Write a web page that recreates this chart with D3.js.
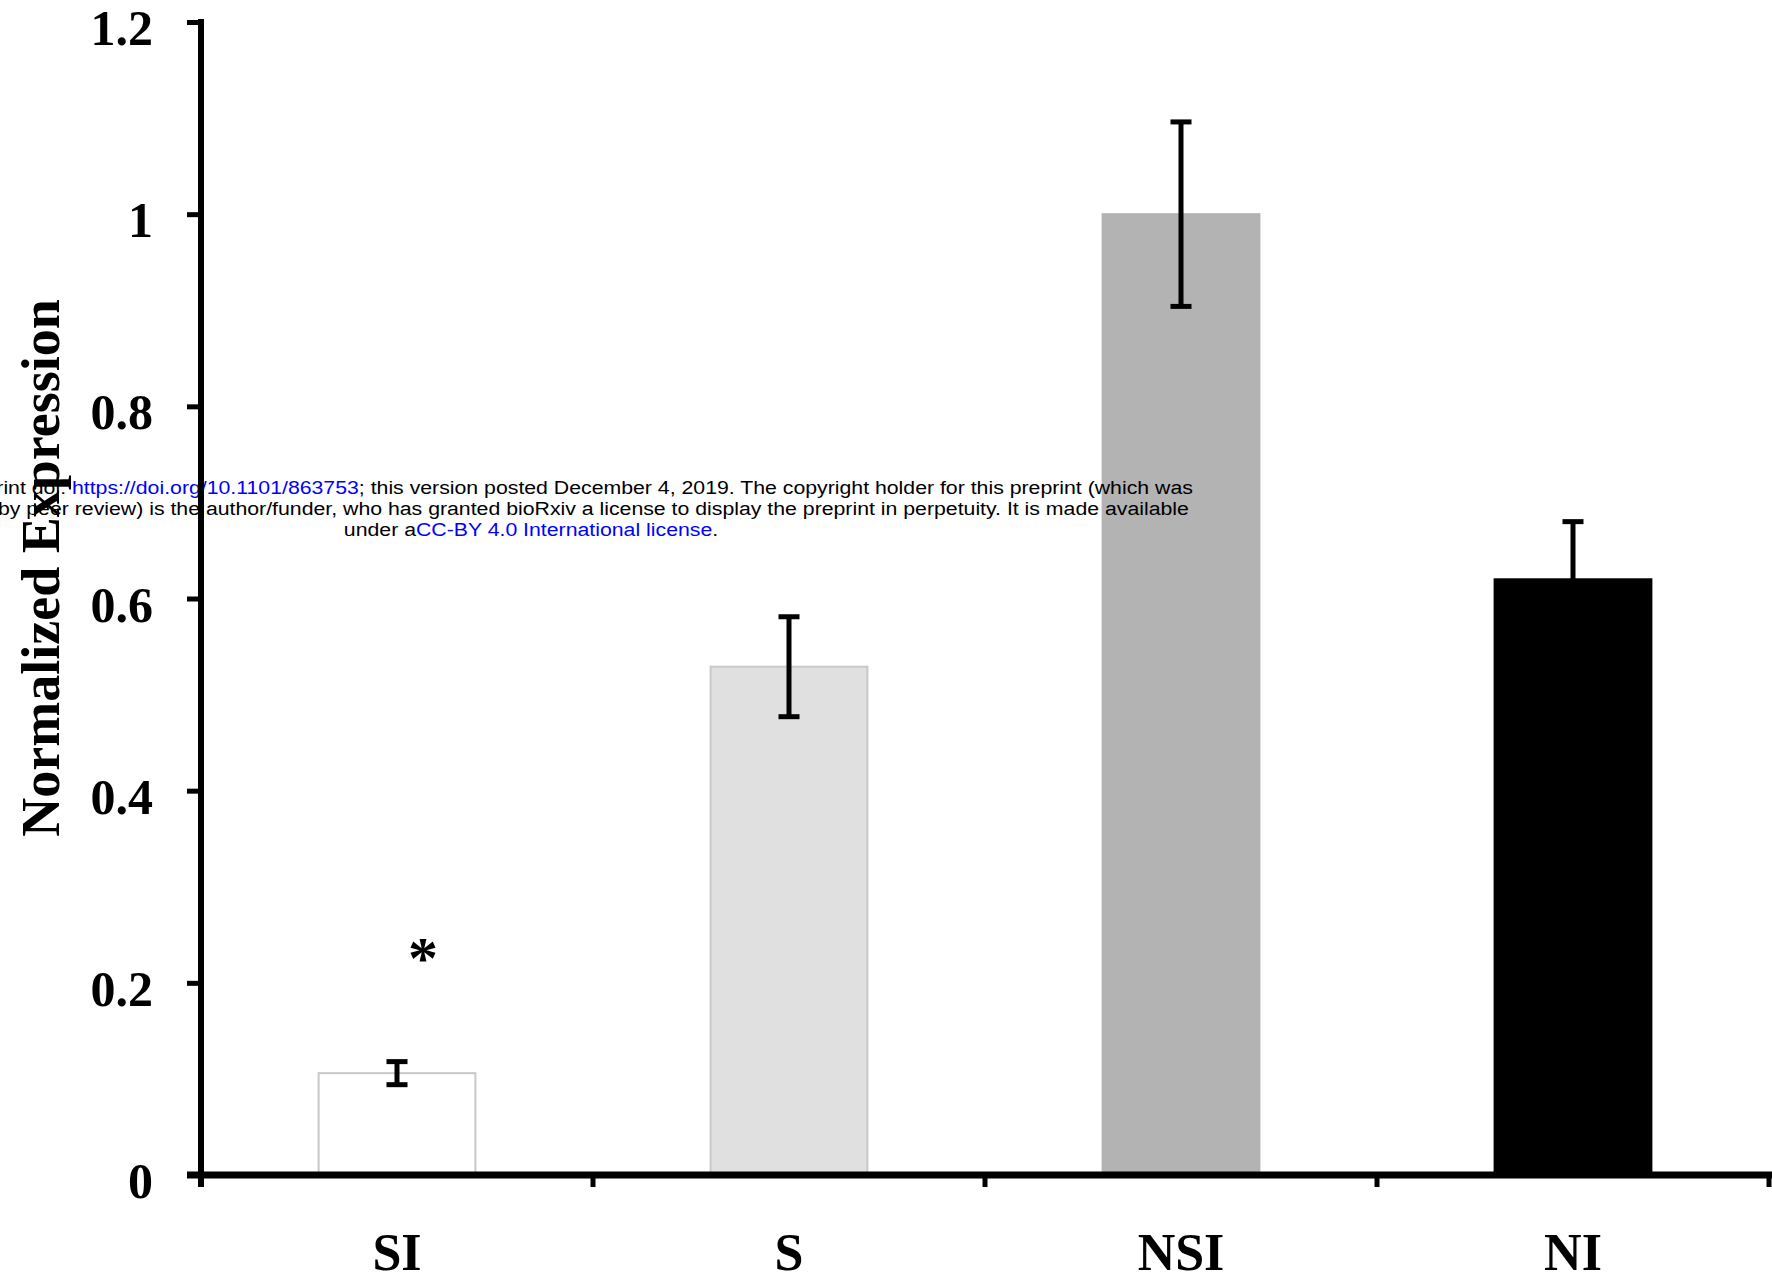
<!DOCTYPE html>
<html>
<head>
<meta charset="utf-8">
<script src="https://cdn.jsdelivr.net/npm/d3@7"></script>
<style>
  body { margin: 0; background: #fff; }
  svg { display: block; }
</style>
</head>
<body>
<div id="chart"></div>
<script>
// data
const groups = ["SI", "S", "NSI", "NI"];
const means = [0.106, 0.529, 1.0, 0.62];
const errors = [0.012, 0.052, 0.096, 0.06];
const fills = ["#ffffff", "#e0e0e0", "#b3b3b3", "#000000"];
const strokes = ["#c8c8c8", "#c8c8c8", "#b3b3b3", "#000000"];
const marks = ["*", "", "", ""];
const markValue = 0.232;
const yTicks = [0, 0.2, 0.4, 0.6, 0.8, 1, 1.2];
const yTickLabels = ["0", "0.2", "0.4", "0.6", "0.8", "1", "1.2"];

const W = 1772, H = 1288;
const svg = d3.select("#chart").append("svg")
    .attr("width", W)
    .attr("height", H);

const x = d3.scaleBand().domain(groups).range([201, 1769]).padding(0);
const y = d3.scaleLinear().domain([0, 1.2]).range([1175, 22]);
const barW = x.bandwidth() * 0.4;
const serif = "'Liberation Serif', 'Times New Roman', serif";

// bars
svg.selectAll("rect.bar")
    .data(groups)
    .join("rect")
    .attr("class", "bar")
    .attr("x", d => x(d) + x.bandwidth() / 2 - barW / 2)
    .attr("y", (d, i) => y(means[i]))
    .attr("width", barW)
    .attr("height", (d, i) => y(0) - y(means[i]))
    .attr("fill", (d, i) => fills[i])
    .attr("stroke", (d, i) => strokes[i])
    .attr("stroke-width", 2);

// error bars
const capW = 21;
const eb = svg.selectAll("g.err")
    .data(groups)
    .join("g")
    .attr("class", "err")
    .attr("stroke", "#000")
    .attr("stroke-width", 5);
eb.append("line")
    .attr("x1", d => x(d) + x.bandwidth() / 2)
    .attr("x2", d => x(d) + x.bandwidth() / 2)
    .attr("y1", (d, i) => y(means[i] + errors[i]))
    .attr("y2", (d, i) => y(means[i] - errors[i]));
eb.append("line")
    .attr("x1", d => x(d) + x.bandwidth() / 2 - capW / 2)
    .attr("x2", d => x(d) + x.bandwidth() / 2 + capW / 2)
    .attr("y1", (d, i) => y(means[i] + errors[i]))
    .attr("y2", (d, i) => y(means[i] + errors[i]));
eb.append("line")
    .attr("x1", d => x(d) + x.bandwidth() / 2 - capW / 2)
    .attr("x2", d => x(d) + x.bandwidth() / 2 + capW / 2)
    .attr("y1", (d, i) => y(means[i] - errors[i]))
    .attr("y2", (d, i) => y(means[i] - errors[i]));

// significance mark
svg.selectAll("text.mark")
    .data(groups)
    .join("text")
    .attr("class", "mark")
    .attr("x", d => x(d) + x.bandwidth() / 2 + 26)
    .attr("y", y(markValue) + 26)
    .attr("text-anchor", "middle")
    .attr("font-family", serif)
    .attr("font-weight", "bold")
    .attr("font-size", 60)
    .text((d, i) => marks[i]);

// bioRxiv watermark
const wm = svg.append("g")
    .attr("transform", "translate(531,0) scale(1.12,1)")
    .attr("font-family", "'Liberation Sans', Arial, sans-serif")
    .attr("font-size", 19)
    .attr("text-anchor", "middle");
const l1 = wm.append("text").attr("x", 4).attr("y", 494);
l1.append("tspan").text("bioRxiv preprint doi: ");
l1.append("tspan").attr("fill", "#0000ff").text("https://doi.org/10.1101/863753");
l1.append("tspan").text("; this version posted December 4, 2019. The copyright holder for this preprint (which was");
wm.append("text").attr("x", 4).attr("y", 515)
    .text("not certified by peer review) is the author/funder, who has granted bioRxiv a license to display the preprint in perpetuity. It is made available");
const l3 = wm.append("text").attr("x", 0).attr("y", 536);
l3.append("tspan").text("under a");
l3.append("tspan").attr("fill", "#0000ff").text("CC-BY 4.0 International license");
l3.append("tspan").text(".");

// y axis
const yAxis = svg.append("g")
    .attr("transform", "translate(201,0)")
    .call(d3.axisLeft(y)
        .tickValues(yTicks)
        .tickFormat((d, i) => yTickLabels[i])
        .tickSize(14)
        .tickSizeOuter(0)
        .tickPadding(34));
yAxis.select(".domain").remove();
yAxis.selectAll(".tick line").attr("stroke", "#000").attr("stroke-width", 5);
yAxis.selectAll(".tick text")
    .attr("font-family", serif)
    .attr("font-weight", "bold")
    .attr("font-size", 50)
    .attr("fill", "#000")
    .attr("dy", "0.45em");
svg.append("line")
    .attr("x1", 201).attr("x2", 201)
    .attr("y1", 19).attr("y2", 1187)
    .attr("stroke", "#000").attr("stroke-width", 6);

// x axis
const xAxis = svg.append("g")
    .attr("transform", "translate(0,1175)")
    .call(d3.axisBottom(x)
        .tickValues([])
        .tickSizeOuter(0));
xAxis.select(".domain").remove();
svg.selectAll("line.xtick")
    .data(groups.slice(1).concat(["end"]))
    .join("line")
    .attr("class", "xtick")
    .attr("x1", (d, i) => i < groups.length - 1 ? x(d) : x.range()[1])
    .attr("x2", (d, i) => i < groups.length - 1 ? x(d) : x.range()[1])
    .attr("y1", 1175).attr("y2", 1187)
    .attr("stroke", "#000").attr("stroke-width", 5);
svg.append("line")
    .attr("x1", 187).attr("x2", W)
    .attr("y1", 1175).attr("y2", 1175)
    .attr("stroke", "#000").attr("stroke-width", 7);

svg.selectAll("text.xlab")
    .data(groups)
    .join("text")
    .attr("class", "xlab")
    .attr("x", d => x(d) + x.bandwidth() / 2)
    .attr("y", 1270)
    .attr("text-anchor", "middle")
    .attr("font-family", serif)
    .attr("font-weight", "bold")
    .attr("font-size", 52)
    .text(d => d);

// y axis title
svg.append("text")
    .attr("transform", "translate(59,568) rotate(-90)")
    .attr("text-anchor", "middle")
    .attr("font-family", serif)
    .attr("font-weight", "bold")
    .attr("font-size", 54)
    .text("Normalized Expression");
</script>
</body>
</html>
